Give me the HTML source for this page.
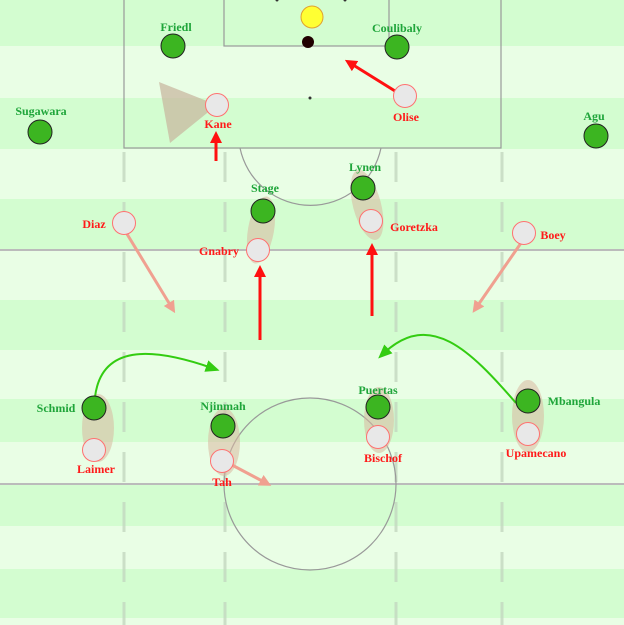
<!DOCTYPE html>
<html><head><meta charset="utf-8"><style>body{margin:0}svg{display:block}text{font-family:"Liberation Serif",serif;font-weight:bold;font-size:12px;text-anchor:middle}.g{fill:#1fa53a}.r{fill:#ff1a1a}</style></head><body>
<svg width="624" height="625" viewBox="0 0 624 625">
<defs>
<marker id="ar" markerWidth="4" markerHeight="4" refX="2" refY="2" orient="auto" markerUnits="strokeWidth"><path d="M0,0L4,2L0,4z" fill="#ff1010"/></marker>
<marker id="ap" markerWidth="4" markerHeight="4" refX="2" refY="2" orient="auto" markerUnits="strokeWidth"><path d="M0,0L4,2L0,4z" fill="#f0a090"/></marker>
<marker id="ag" markerWidth="7" markerHeight="7" refX="3" refY="3" orient="auto" markerUnits="strokeWidth"><path d="M0,0L7,3L0,6z" fill="#33cc11"/></marker>
</defs>
<rect width="624" height="625" fill="#e9fee5"/>
<g fill="#d3fdd0"><rect y="0" width="624" height="46"/><rect y="98" width="624" height="51"/><rect y="199" width="624" height="51"/><rect y="300" width="624" height="50"/><rect y="399" width="624" height="43"/><rect y="484" width="624" height="42"/><rect y="569" width="624" height="49"/></g>
<g stroke="#c4d8c0" stroke-width="3" stroke-dasharray="30,20" opacity="0.8"><line x1="124" y1="152" x2="124" y2="625"/><line x1="225" y1="152" x2="225" y2="625"/><line x1="396" y1="152" x2="396" y2="625"/><line x1="502" y1="152" x2="502" y2="625"/></g>
<g fill="none" stroke="#999" stroke-width="1.2">
<line x1="0" y1="250" x2="624" y2="250" stroke="#bbb" stroke-width="2"/>
<line x1="0" y1="484" x2="624" y2="484" stroke="#bbb" stroke-width="2"/>
<rect x="124" y="-2" width="377" height="150"/>
<rect x="224" y="-2" width="165" height="48"/>
<path d="M240,148 A72,72 0 0 0 381,148"/>
<circle cx="310" cy="484" r="86"/>
</g>
<circle cx="310" cy="98" r="1.5" fill="#333"/><circle cx="277" cy="0" r="1.5" fill="#333"/><circle cx="345" cy="0" r="1.5" fill="#333"/>
<polygon points="159,82 217,105 170,143" fill="#c8b8a0" opacity="0.75"/>
<g fill="#d9b8a0" opacity="0.55">
<ellipse cx="261" cy="230" rx="13" ry="34" transform="rotate(10 261 230)"/>
<ellipse cx="367" cy="205" rx="14" ry="36" transform="rotate(-15 367 205)"/>
<ellipse cx="98" cy="428" rx="16" ry="34"/>
<ellipse cx="224" cy="442" rx="16" ry="34"/>
<ellipse cx="379" cy="420" rx="15" ry="33"/>
<ellipse cx="528" cy="416" rx="16" ry="36"/>
</g>
<g stroke-width="3" fill="none">
<line x1="395" y1="91" x2="350" y2="63" stroke="#ff1010" marker-end="url(#ar)"/>
<line x1="216" y1="161" x2="216" y2="137" stroke="#ff1010" marker-end="url(#ar)"/>
<line x1="260" y1="340" x2="260" y2="271" stroke="#ff1010" marker-end="url(#ar)"/>
<line x1="372" y1="316" x2="372" y2="249" stroke="#ff1010" marker-end="url(#ar)"/>
<line x1="127" y1="234" x2="172" y2="308" stroke="#f0a090" marker-end="url(#ap)"/>
<line x1="521" y1="243" x2="476" y2="308" stroke="#f0a090" marker-end="url(#ap)"/>
<line x1="232" y1="465" x2="266" y2="483" stroke="#f0a090" marker-end="url(#ap)"/>
<path d="M95,397 C102,340 160,350 212,368" stroke="#33cc11" stroke-width="2" marker-end="url(#ag)"/>
<path d="M516,403 C470,350 430,310 384,353" stroke="#33cc11" stroke-width="2" marker-end="url(#ag)"/>
</g>
<g fill="#3cb521" stroke="#222" stroke-width="1">
<circle cx="173" cy="46" r="12"/><circle cx="397" cy="47" r="12"/><circle cx="40" cy="132" r="12"/><circle cx="596" cy="136" r="12"/>
<circle cx="363" cy="188" r="12"/><circle cx="263" cy="211" r="12"/><circle cx="94" cy="408" r="12"/><circle cx="223" cy="426" r="12"/><circle cx="378" cy="407" r="12"/><circle cx="528" cy="401" r="12"/>
</g>
<circle cx="312" cy="17" r="11" fill="#ffff33" stroke="#e0a030"/>
<circle cx="308" cy="42" r="6" fill="#200000"/>
<g fill="#e8e8e8" stroke="#ff7070" stroke-width="1">
<circle cx="217" cy="105" r="11.5"/><circle cx="405" cy="96" r="11.5"/><circle cx="371" cy="221" r="11.5"/><circle cx="258" cy="250" r="11.5"/><circle cx="124" cy="223" r="11.5"/><circle cx="524" cy="233" r="11.5"/>
<circle cx="94" cy="450" r="11.5"/><circle cx="222" cy="461" r="11.5"/><circle cx="378" cy="437" r="11.5"/><circle cx="528" cy="434" r="11.5"/>
</g>
<g class="g">
<text x="176" y="31">Friedl</text><text x="397" y="32">Coulibaly</text><text x="41" y="115">Sugawara</text><text x="594" y="120">Agu</text>
<text x="365" y="171">Lynen</text><text x="265" y="192">Stage</text><text x="56" y="412">Schmid</text><text x="223" y="410">Njinmah</text><text x="378" y="394">Puertas</text><text x="574" y="405">Mbangula</text>
</g>
<g class="r">
<text x="218" y="128">Kane</text><text x="406" y="121">Olise</text><text x="414" y="231">Goretzka</text><text x="219" y="255">Gnabry</text><text x="94" y="228">Diaz</text><text x="553" y="239">Boey</text>
<text x="96" y="473">Laimer</text><text x="222" y="486">Tah</text><text x="383" y="462">Bischof</text><text x="536" y="457">Upamecano</text>
</g>
</svg></body></html>
